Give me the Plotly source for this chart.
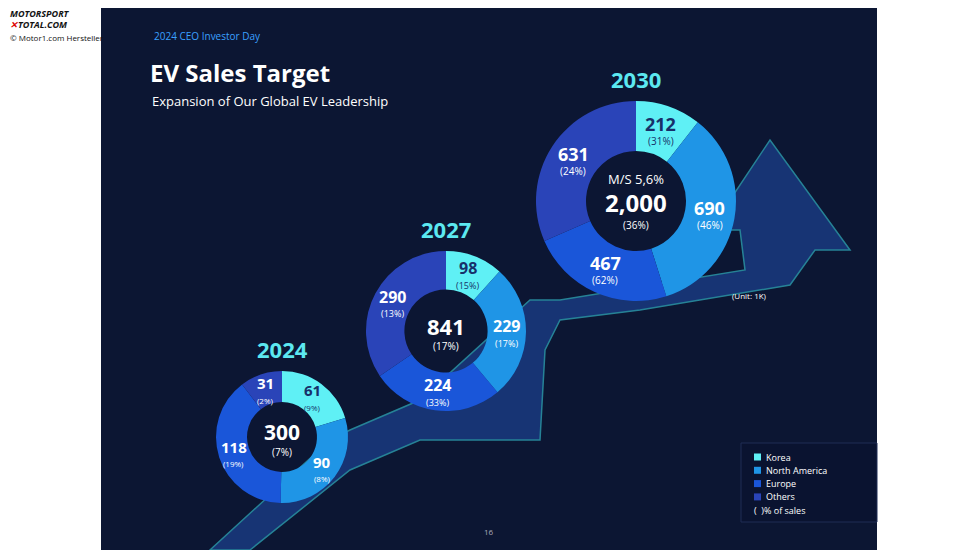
import math
import plotly.graph_objects as go

W, H = 978, 550
OFF = 8  # browser body margin
regions = ["Korea", "North America", "Europe", "Others"]
colors = ["#5ff0f5", "#1f95e6", "#1a56d9", "#2a44b8"]
years = ["2024", "2027", "2030"]
vals_2024 = [61, 90, 118, 31]
pcts_2024 = ["9%", "8%", "19%", "2%"]
vals_2027 = [98, 229, 224, 290]
pcts_2027 = ["15%", "17%", "33%", "13%"]
vals_2030 = [212, 690, 467, 631]
pcts_2030 = ["31%", "46%", "62%", "24%"]
totals = ["300", "841", "2,000"]
total_pcts = ["7%", "17%", "36%"]

geo = [(282, 437, 66, 0.53, 15), (446, 331, 80, 0.52, 16), (636, 201, 100, 0.5, 18)]
data = [(vals_2024, pcts_2024), (vals_2027, pcts_2027), (vals_2030, pcts_2030)]

FONT = "Open Sans"
fig = go.Figure()
shapes = []
ann = []

def px(x): return (x - OFF) / W
def py(y): return 1 - (y - OFF) / H

shapes.append(dict(type="rect", xref="paper", yref="paper", x0=px(101), x1=px(877), y0=py(560), y1=py(0),
                   fillcolor="#0c1633", line_width=0, layer="below"))
shapes.append(dict(type="path", xref="paper", yref="paper", layer="below",
    path="M {} {} ".format(px(250), py(550)) + " ".join("L {} {}".format(px(a), py(b)) for a, b in [
        (350, 470), (420, 440), (540, 440), (545, 350), (560, 320), (640, 310), (790, 285),
        (815, 250), (850, 250), (770, 140), (730, 200), (700, 230), (740, 230), (745, 270),
        (560, 300), (530, 300), (420, 400), (350, 430), (330, 440), (210, 550)]) + " Z",
    fillcolor="#1b3f8a", opacity=0.75, line=dict(color="#2fa7b8", width=1.5)))

def txt(x, y, t, size, color="white", anchor="left"):
    ann.append(dict(x=px(x), y=py(y), xref="paper", yref="paper", showarrow=False, text=t,
                    xanchor=anchor, yanchor="middle", font=dict(family=FONT, size=size, color=color)))

for i, ((vals, pcts), (cx, cy, r, hole, fs)) in enumerate(zip(data, geo)):
    fig.add_trace(go.Pie(values=vals, labels=regions, sort=False, direction="clockwise",
        hole=hole, marker=dict(colors=colors, line=dict(width=0)), textinfo="none",
        hoverinfo="label+value", showlegend=False,
        domain=dict(x=[px(cx - r), px(cx + r)], y=[py(cy + r), py(cy - r)])))
    tot = sum(vals)
    cum = 0
    rm = r * (1 + hole) / 2
    for j, (v, p) in enumerate(zip(vals, pcts)):
        a = math.radians((cum + v / 2) / tot * 360)
        cum += v
        x = cx + rm * math.sin(a)
        y = cy - rm * math.cos(a)
        col = "#17306a" if j == 0 else "white"
        txt(x, y - 6, "<b>{}</b>".format(v), fs, col, "center")
        txt(x, y + 11, "({})".format(p), round(fs * 0.55), col, "center")
    if i < 2:
        txt(cx, cy - 5, "<b>{}</b>".format(totals[i]), 21 if i == 0 else 22, "white", "center")
        txt(cx, cy + 15, "({})".format(total_pcts[i]), 10, "white", "center")
    else:
        txt(cx, cy - 22, "M/S 5,6%", 13, "white", "center")
        txt(cx, cy + 2, "<b>{}</b>".format(totals[i]), 24, "white", "center")
        txt(cx, cy + 24, "({})".format(total_pcts[i]), 10, "white", "center")
    txt(cx, cy - r - 22, "<b>{}</b>".format(years[i]), 22, "#5ce8f0", "center")

txt(152, 36, "2024 CEO Investor Day", 10, "#3aa0ff")
txt(148, 73, "<b>EV Sales Target</b>", 24)
txt(150, 101, "Expansion of Our Global EV Leadership", 13)
txt(730, 295, "(Unit: 1K)", 8)
txt(489, 531, "16", 8, "#aab", "center")
txt(8, 14, "<b><i>MOTORSPORT</i></b>", 9, "#111")
txt(8, 25, "<b><i><span style='color:#d00'>✕</span>TOTAL.COM</i></b>", 9, "#111")
txt(8, 37, "© Motor1.com Hersteller", 8, "#111")

shapes.append(dict(type="rect", xref="paper", yref="paper", x0=px(741), x1=px(877), y0=py(522), y1=py(443),
                   fillcolor="#0a1330", line=dict(color="#1f2d55", width=1)))
for k, (rg, c) in enumerate(zip(regions, colors)):
    y = 457 + k * 13.3
    shapes.append(dict(type="rect", xref="paper", yref="paper", x0=px(754), x1=px(761), y0=py(y + 3.5), y1=py(y - 3.5),
                       fillcolor=c, line_width=0))
    txt(764, y, rg, 9)
txt(752, 510, "(  )% of sales", 9)

fig.update_layout(width=W, height=H, margin=dict(l=0, r=0, t=0, b=0), paper_bgcolor="white",
                  plot_bgcolor="white", shapes=shapes, annotations=ann)
fig.write_html("out.html")
